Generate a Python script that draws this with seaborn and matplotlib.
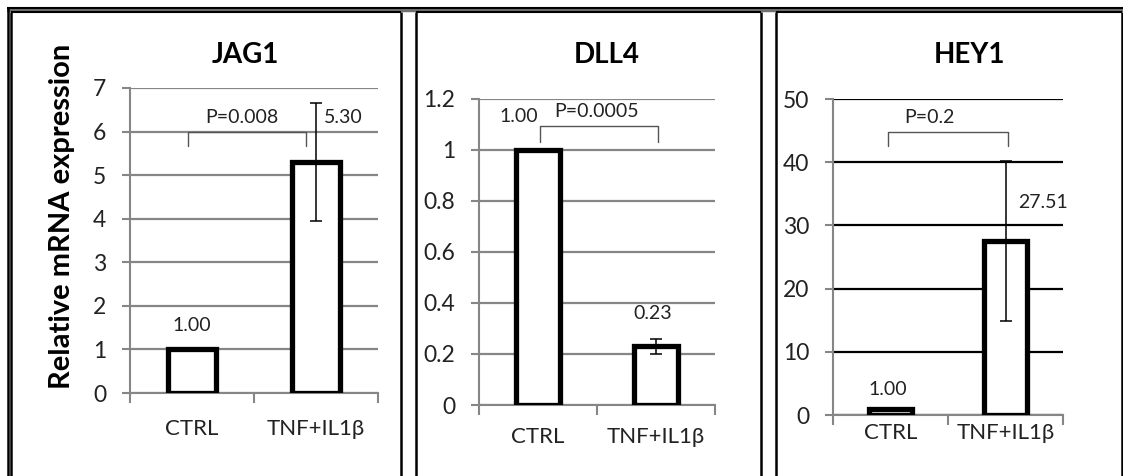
import matplotlib
matplotlib.use("Agg")
import matplotlib.pyplot as plt
from matplotlib.lines import Line2D
import pandas as pd
import seaborn as sns

# Dados
CATEGORIAS = ["CTRL", "TNF+IL1β"]
GENES = ["JAG1", "DLL4", "HEY1"]
JAG1_MEDIA = [1.00, 5.30]
JAG1_ERRO = [0.0, 1.35]
DLL4_MEDIA = [1.00, 0.23]
DLL4_ERRO = [0.0, 0.03]
HEY1_MEDIA = [1.00, 27.51]
HEY1_ERRO = [0.0, 12.7]
P_VALORES = ["P=0.008", "P=0.0005", "P=0.2"]
Y_MAX = [7, 1.2, 50]
Y_PASSO = [1, 0.2, 10]

W, H = 1123, 476
CINZA = "#868686"
TEXTO = "#222222"

# Tamanhos de fonte
TAM_TICKS = 16.5
TAM_CATEG = 16
TAM_ANOT = 14
TAM_TITULO = 20
TAM_YLABEL = 21


def px(x, y):
    return x / W, 1 - y / H


def linha(fig, x0, y0, x1, y1, cor="black", lw=1.5):
    (a, b), (c, d) = px(x0, y0), px(x1, y1)
    fig.add_artist(Line2D([a, c], [b, d], color=cor, lw=lw, transform=fig.transFigure,
                          solid_capstyle="butt"))


def desenhar_painel(fig, caixa, medias, erros, p_txt, ymax, passo, cfg):
    l, t, r, b = caixa
    ax = fig.add_axes([l / W, 1 - b / H, (r - l) / W, (b - t) / H])
    df = pd.DataFrame({"grupo": CATEGORIAS, "valor": medias})
    sns.barplot(data=df, x="grupo", y="valor", ax=ax, color="white", edgecolor="black",
                linewidth=3.8, width=0.38, errorbar=None, zorder=3)
    ax.errorbar([1], [medias[1]], yerr=[erros[1]], fmt="none", ecolor="black",
                elinewidth=1.1, capsize=4.5, capthick=1.1, zorder=4)

    ax.set_xlim(-0.5, 1.5)
    ax.set_ylim(0, ymax)
    ticks = [round(i * passo, 2) for i in range(int(round(ymax / passo)) + 1)]
    ax.set_yticks(ticks)
    ax.set_yticklabels([f"{v:g}" for v in ticks])
    ax.grid(axis="y", color=cfg["grid"], lw=1.6, zorder=0)
    ax.grid(axis="x", visible=False)
    ax.set_axisbelow(True)
    ax.set_xlabel("")
    ax.set_ylabel("")

    for s in ["top", "right"]:
        ax.spines[s].set_visible(False)
    for s in ["left", "bottom"]:
        ax.spines[s].set_color(CINZA)
        ax.spines[s].set_linewidth(1.5)

    ax.tick_params(axis="y", length=6, width=1.5, color=CINZA, labelsize=TAM_TICKS,
                   labelcolor=TEXTO, pad=11, direction="out", left=True)
    ax.tick_params(axis="x", which="major", length=0, labelsize=TAM_CATEG,
                   labelcolor=TEXTO, pad=cfg["xpad"])
    ax.set_xticks([-0.5, 0.5, 1.5], minor=True)
    ax.tick_params(axis="x", which="minor", length=7, width=1.5, color=CINZA,
                   direction="out", bottom=True)

    # rótulos dos valores
    for (xt, yt), v in zip(cfg["rotulos"], medias):
        ax.text(xt, yt, f"{v:.2f}", ha="center", va="center", fontsize=TAM_ANOT,
                color=TEXTO, zorder=5)

    # colchete do valor de P
    x0, x1, ytop, ybot = cfg["colchete"]
    ax.plot([x0, x0, x1, x1], [ybot, ytop, ytop, ybot], color="#555555", lw=1.0,
            zorder=5, clip_on=False)
    ax.text(cfg["p_pos"][0], cfg["p_pos"][1], p_txt, ha="center", va="center",
            fontsize=TAM_ANOT, color=TEXTO, zorder=5)
    return ax


def main():
    sns.set_theme(style="white")
    plt.rcParams["font.family"] = ["Lato", "DejaVu Sans"]

    fig = plt.figure(figsize=(W / 100, H / 100), dpi=100)
    fig.patch.set_facecolor("white")

    caixas = [(130, 88, 378, 393), (479, 99, 715, 405), (833, 99, 1063, 415)]
    cfgs = [
        dict(grid=CINZA, xpad=19, rotulos=[(0, 1.56), (1.22, 6.33)],
             colchete=(-0.03, 0.92, 5.99, 5.67), p_pos=(0.40, 6.32)),
        dict(grid=CINZA, xpad=16, rotulos=[(-0.16, 1.13), (0.97, 0.36)],
             colchete=(0.02, 1.02, 1.096, 1.03), p_pos=(0.50, 1.15)),
        dict(grid="black", xpad=6, rotulos=[(-0.02, 3.96), (1.33, 33.7)],
             colchete=(-0.02, 1.02, 44.8, 42.6), p_pos=(0.34, 47.1)),
    ]
    dados = [(JAG1_MEDIA, JAG1_ERRO), (DLL4_MEDIA, DLL4_ERRO), (HEY1_MEDIA, HEY1_ERRO)]

    for i in range(len(GENES)):
        medias, erros = dados[i]
        desenhar_painel(fig, caixas[i], medias, erros, P_VALORES[i],
                        Y_MAX[i], Y_PASSO[i], cfgs[i])

    # títulos
    for x, gene in zip([245, 607, 970], GENES):
        fx, fy = px(x, 63)
        fig.text(fx, fy, gene, ha="center", va="baseline", fontsize=TAM_TITULO,
                 fontweight="bold", color="black")

    fx, fy = px(62, 216)
    fig.text(fx, fy, "Relative mRNA expression", rotation=90, ha="center", va="center",
             fontsize=TAM_YLABEL, fontweight="bold", color="black")

    # molduras dos painéis
    linha(fig, 7, 9.5, 1123, 9.5, cor="#707070", lw=3.2)
    linha(fig, 7, 8, 1123, 8, cor="black", lw=1.5)
    linha(fig, 8, 8, 8, H, cor="black", lw=1.8)
    for esq, dir_ in [(11.5, 401), (416, 761), (776, 1121.5)]:
        linha(fig, esq, 11.5, dir_, 11.5, cor="black", lw=1.5)
        linha(fig, esq, 11.5, esq, H, cor="black", lw=1.8)
        linha(fig, dir_, 11.5, dir_, H, cor="black", lw=1.8)

    fig.savefig("out.png", dpi=100)


if __name__ == "__main__":
    main()
